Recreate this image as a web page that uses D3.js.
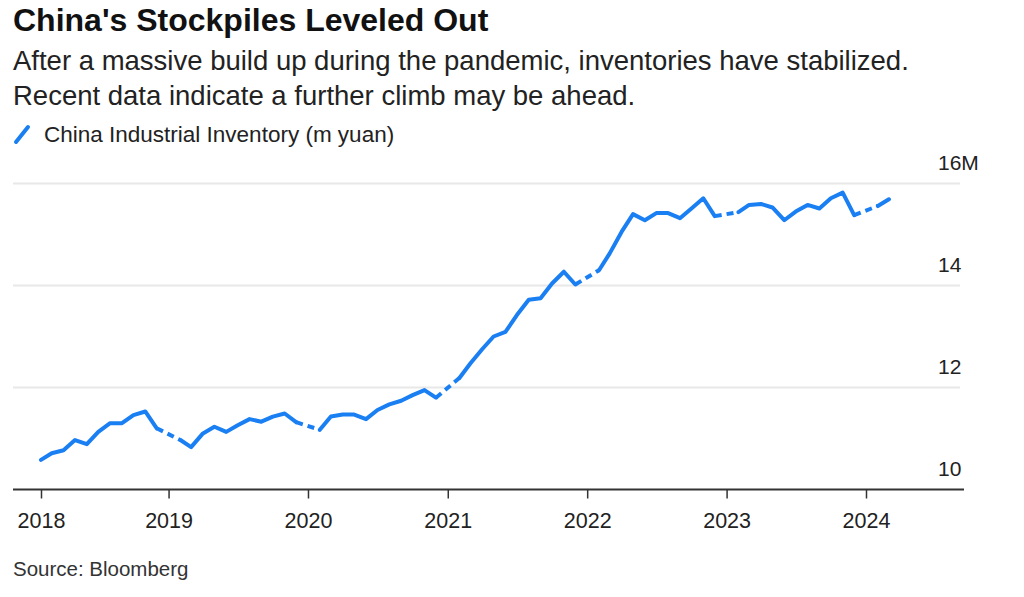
<!DOCTYPE html>
<html>
<head>
<meta charset="utf-8">
<script src="https://cdn.jsdelivr.net/npm/d3@7"></script>
<style>
  html, body { margin: 0; padding: 0; background: #fff; }
  svg { display: block; font-family: "Liberation Sans", Arial, sans-serif; }
</style>
</head>
<body>
<svg id="chart" width="1024" height="597"></svg>
<script>
// ---- Data (monthly; China reports Jan+Feb combined, so January is missing) ----
const dates = [
  "2018-02","2018-03","2018-04","2018-05","2018-06","2018-07","2018-08","2018-09","2018-10","2018-11","2018-12",
  "2019-02","2019-03","2019-04","2019-05","2019-06","2019-07","2019-08","2019-09","2019-10","2019-11","2019-12",
  "2020-02","2020-03","2020-04","2020-05","2020-06","2020-07","2020-08","2020-09","2020-10","2020-11","2020-12",
  "2021-02","2021-03","2021-04","2021-05","2021-06","2021-07","2021-08","2021-09","2021-10","2021-11","2021-12",
  "2022-02","2022-03","2022-04","2022-05","2022-06","2022-07","2022-08","2022-09","2022-10","2022-11","2022-12",
  "2023-02","2023-03","2023-04","2023-05","2023-06","2023-07","2023-08","2023-09","2023-10","2023-11","2023-12",
  "2024-02","2024-03"
];
// China Industrial Inventory (axis in M)
const inventory = [
  10.58,10.71,10.77,10.97,10.89,11.13,11.30,11.30,11.46,11.53,11.20,
  10.97,10.83,11.10,11.23,11.13,11.26,11.38,11.33,11.43,11.49,11.32,
  11.17,11.43,11.47,11.47,11.38,11.56,11.67,11.74,11.85,11.95,11.80,
  12.19,12.47,12.75,13.00,13.09,13.42,13.72,13.75,14.04,14.27,14.02,
  14.30,14.63,15.05,15.40,15.28,15.42,15.42,15.32,15.51,15.71,15.36,
  15.44,15.58,15.60,15.53,15.28,15.45,15.58,15.51,15.71,15.82,15.38,
  15.56,15.69
];
const yTicks = [10, 12, 14, 16];
const yTickLabels = ["10", "12", "14", "16M"];
const xTickDates = ["2018-02","2019-01","2020-01","2021-01","2022-01","2023-01","2024-01"];
const xTickLabels = ["2018","2019","2020","2021","2022","2023","2024"];

const title = "China's Stockpiles Leveled Out";
const subtitle = [
  "After a massive build up during the pandemic, inventories have stabilized.",
  "Recent data indicate a further climb may be ahead."
];
const legendLabel = "China Industrial Inventory (m yuan)";
const source = "Source: Bloomberg";

// ---- Setup ----
const parse = d3.timeParse("%Y-%m");
const BLUE = "#1a7ff2";
const svg = d3.select("#chart");

const x = d3.scaleTime()
  .domain([parse("2018-02"), parse("2024-01")])
  .range([41, 866]);
const y = d3.scaleLinear().domain([10, 16]).range([489.5, 183.5]);

const plotLeft = 13, plotRight = 960;

// ---- Headline text ----
svg.append("text").attr("x", 13).attr("y", 31)
  .attr("font-size", 32).attr("font-weight", "bold").attr("fill", "#111")
  .text(title);
subtitle.forEach((s, i) => {
  svg.append("text").attr("x", 13).attr("y", 70 + i * 35)
    .attr("font-size", 27.5).attr("fill", "#222").text(s);
});
// legend
svg.append("line").attr("x1", 16).attr("y1", 142).attr("x2", 28).attr("y2", 127)
  .attr("stroke", BLUE).attr("stroke-width", 4).attr("stroke-linecap", "round");
svg.append("text").attr("x", 44).attr("y", 142)
  .attr("font-size", 22.5).attr("fill", "#222").text(legendLabel);

// ---- Gridlines & y labels ----
const g = svg.append("g");
g.selectAll("line.grid").data(yTicks.filter(v => v !== 10)).join("line")
  .attr("class", "grid")
  .attr("x1", plotLeft).attr("x2", plotRight)
  .attr("y1", d => y(d)).attr("y2", d => y(d))
  .attr("stroke", "#e8e8e8").attr("stroke-width", 2);
g.selectAll("text.ylab").data(yTicks).join("text")
  .attr("class", "ylab")
  .attr("x", 938).attr("y", d => y(d) - 14)
  .attr("font-size", 21).attr("fill", "#222")
  .text((d, i) => yTickLabels[i]);

// ---- X axis ----
const xAxis = d3.axisBottom(x)
  .tickValues(xTickDates.map(parse))
  .tickFormat((d, i) => xTickLabels[i])
  .tickSize(9).tickSizeOuter(0);
const ax = svg.append("g").attr("transform", `translate(0,${y(10)})`).call(xAxis);
ax.select(".domain").remove();
ax.selectAll(".tick line").attr("stroke", "#333").attr("stroke-width", 1.5);
ax.selectAll(".tick text").attr("y", 38).attr("dy", 0)
  .attr("font-size", 21.5).attr("font-family", "Liberation Sans, Arial, sans-serif")
  .attr("fill", "#222");
svg.append("line").attr("x1", plotLeft).attr("x2", plotRight + 4)
  .attr("y1", y(10)).attr("y2", y(10))
  .attr("stroke", "#333").attr("stroke-width", 2);

// ---- Line ----
const data = dates.map((d, i) => ({ date: parse(d), value: inventory[i] }));
// solid segments: break across the missing January of each year
const solid = [];
data.forEach((d, i) => {
  if (i > 0 && d.date.getFullYear() !== data[i - 1].date.getFullYear()) solid.push(null);
  solid.push(d);
});
const gaps = [];
for (let i = 1; i < data.length; i++) {
  if (data[i].date.getFullYear() !== data[i - 1].date.getFullYear()) gaps.push([data[i - 1], data[i]]);
}
const line = d3.line().defined(d => d !== null)
  .x(d => x(d.date)).y(d => y(d.value));

svg.append("path").datum(solid)
  .attr("d", line).attr("fill", "none")
  .attr("stroke", BLUE).attr("stroke-width", 4)
  .attr("stroke-linejoin", "round").attr("stroke-linecap", "round");
svg.selectAll("path.gap").data(gaps).join("path")
  .attr("class", "gap")
  .attr("d", line).attr("fill", "none")
  .attr("stroke", BLUE).attr("stroke-width", 4)
  .attr("stroke-dasharray", "7,5");

// ---- Source ----
svg.append("text").attr("x", 13).attr("y", 576)
  .attr("font-size", 20.5).attr("fill", "#333").text(source);
</script>
</body>
</html>
